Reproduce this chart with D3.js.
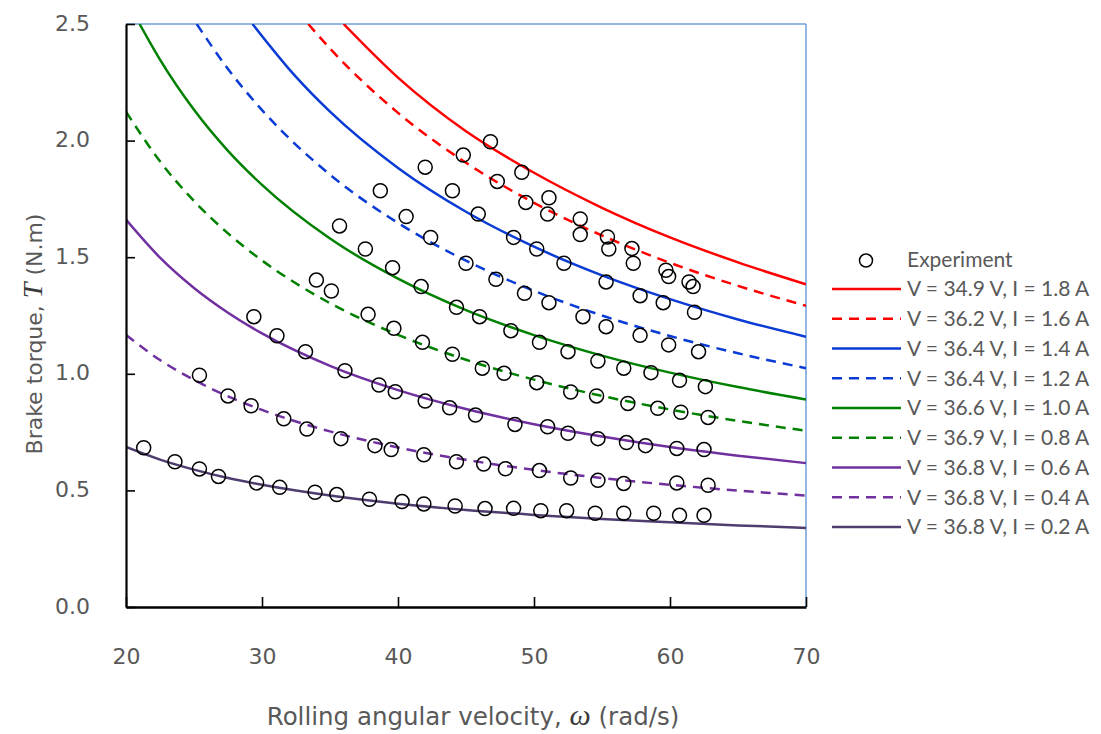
<!DOCTYPE html>
<html>
<head>
<meta charset="utf-8">
<script src="https://cdn.jsdelivr.net/npm/d3@7"></script>
<style>
  html, body { margin: 0; padding: 0; background: #ffffff; }
  svg { display: block; }
</style>
</head>
<body>
<svg id="chart" width="1101" height="734"></svg>
<script>
// ---------------- data ----------------
const omegaTicks = [20, 30, 40, 50, 60, 70];
const torqueTicks = [0.0, 0.5, 1.0, 1.5, 2.0, 2.5];
const torqueTickLabels = ["0.0", "0.5", "1.0", "1.5", "2.0", "2.5"];

const seriesLabels = [
  "V = 34.9 V, I = 1.8 A",
  "V = 36.2 V, I = 1.6 A",
  "V = 36.4 V, I = 1.4 A",
  "V = 36.4 V, I = 1.2 A",
  "V = 36.6 V, I = 1.0 A",
  "V = 36.9 V, I = 0.8 A",
  "V = 36.8 V, I = 0.6 A",
  "V = 36.8 V, I = 0.4 A",
  "V = 36.8 V, I = 0.2 A"
];

// model curves (omega in rad/s, torque in N.m)
const omegaA18 = [36.0, 40, 45, 50, 55, 60, 65, 70];
const torqueA18 = [2.500, 2.270, 2.040, 1.862, 1.712, 1.585, 1.478, 1.384];
const omegaA16 = [33.4, 35, 40, 45, 50, 55, 60, 65, 70];
const torqueA16 = [2.500, 2.395, 2.119, 1.905, 1.733, 1.593, 1.476, 1.377, 1.292];
const omegaA14 = [29.3, 32.5, 35, 40, 45, 50, 55, 60, 65, 70];
const torqueA14 = [2.500, 2.273, 2.124, 1.883, 1.695, 1.545, 1.422, 1.320, 1.233, 1.159];
const omegaA12 = [25.2, 27.5, 30, 35, 40, 45, 50, 55, 60, 65, 70];
const torqueA12 = [2.500, 2.307, 2.131, 1.854, 1.647, 1.485, 1.356, 1.250, 1.162, 1.088, 1.024];
const omegaA10 = [21.0, 22.5, 25, 27.5, 30, 35, 40, 45, 50, 55, 60, 65, 70];
const torqueA10 = [2.500, 2.347, 2.132, 1.956, 1.810, 1.580, 1.408, 1.273, 1.166, 1.078, 1.005, 0.943, 0.890];
const omegaA08 = [20, 22.5, 25, 27.5, 30, 35, 40, 45, 50, 55, 60, 65, 70];
const torqueA08 = [2.124, 1.911, 1.741, 1.602, 1.486, 1.303, 1.167, 1.060, 0.975, 0.905, 0.847, 0.798, 0.756];
const omegaA06 = [20, 22.5, 25, 27.5, 30, 35, 40, 45, 50, 55, 60, 65, 70];
const torqueA06 = [1.661, 1.498, 1.368, 1.262, 1.173, 1.034, 0.930, 0.849, 0.784, 0.731, 0.686, 0.649, 0.617];
const omegaA04 = [20, 22.5, 25, 27.5, 30, 35, 40, 45, 50, 55, 60, 65, 70];
const torqueA04 = [1.167, 1.059, 0.974, 0.903, 0.845, 0.753, 0.684, 0.631, 0.588, 0.553, 0.524, 0.499, 0.478];
const omegaA02 = [20, 22.5, 25, 27.5, 30, 35, 40, 45, 50, 55, 60, 65, 70];
const torqueA02 = [0.686, 0.632, 0.589, 0.553, 0.524, 0.478, 0.443, 0.416, 0.395, 0.377, 0.363, 0.350, 0.339];

// experiment points
const expOmega = [
  // 0.2 A
  21.3, 23.6, 25.4, 26.8, 29.6, 31.3, 33.9, 35.5, 37.9, 40.3, 41.9, 44.2, 46.4, 48.5, 50.5, 52.4, 54.5, 56.6, 58.8, 60.7, 62.5,
  // 0.4 A
  25.4, 27.5, 29.2, 31.6, 33.3, 35.8, 38.3, 39.5, 41.9, 44.3, 46.3, 47.9, 50.4, 52.7, 54.7, 56.6, 60.5, 62.8,
  // 0.6 A
  29.4, 31.1, 33.2, 36.1, 38.6, 39.8, 42.0, 43.8, 45.7, 48.6, 51.0, 52.5, 54.7, 56.8, 58.2, 60.5, 62.5,
  // 0.8 A
  34.0, 35.1, 37.8, 39.7, 41.8, 44.0, 46.2, 47.8, 50.2, 52.7, 54.6, 56.9, 59.1, 60.8, 62.8,
  // 1.0 A
  35.7, 37.6, 39.6, 41.7, 44.3, 46.0, 48.3, 50.4, 52.5, 54.7, 56.6, 58.6, 60.7, 62.6,
  // 1.2 A
  38.7, 40.6, 42.4, 45.0, 47.2, 49.3, 51.1, 53.6, 55.3, 57.8, 59.9, 62.1,
  // 1.4 A
  42.0, 44.0, 45.9, 48.5, 50.2, 52.2, 55.3, 57.8, 59.5, 61.8,
  // 1.6 A
  44.8, 47.3, 49.4, 51.0, 53.4, 55.5, 57.3, 59.9, 61.7,
  // 1.8 A
  46.8, 49.1, 51.1, 53.4, 55.4, 57.2, 59.7, 61.4
];
const expTorque = [
  0.683, 0.623, 0.592, 0.560, 0.532, 0.513, 0.492, 0.482, 0.462, 0.452, 0.442, 0.433, 0.422, 0.423, 0.413, 0.413, 0.402, 0.402, 0.402, 0.393, 0.393,
  0.994, 0.905, 0.863, 0.807, 0.763, 0.722, 0.692, 0.675, 0.653, 0.623, 0.613, 0.593, 0.585, 0.553, 0.543, 0.530, 0.532, 0.522,
  1.245, 1.163, 1.095, 1.013, 0.952, 0.923, 0.883, 0.854, 0.823, 0.783, 0.773, 0.745, 0.722, 0.705, 0.692, 0.680, 0.675,
  1.402, 1.355, 1.255, 1.195, 1.135, 1.084, 1.024, 1.002, 0.962, 0.922, 0.905, 0.873, 0.852, 0.835, 0.813,
  1.634, 1.535, 1.455, 1.374, 1.285, 1.245, 1.185, 1.135, 1.095, 1.055, 1.024, 1.005, 0.972, 0.945,
  1.785, 1.674, 1.585, 1.474, 1.405, 1.345, 1.305, 1.245, 1.202, 1.165, 1.124, 1.095,
  1.886, 1.785, 1.685, 1.585, 1.535, 1.474, 1.394, 1.335, 1.305, 1.264,
  1.938, 1.825, 1.735, 1.685, 1.597, 1.535, 1.474, 1.417, 1.374,
  1.995, 1.864, 1.755, 1.664, 1.587, 1.537, 1.444, 1.394
];

// ---------------- styles ----------------
const seriesColors = ["#ff0000", "#ff0000", "#0a3bd4", "#0a3bd4", "#008000", "#008000", "#7030a0", "#7030a0", "#4e3d6e"];
const seriesDashed = [false, true, false, true, false, true, false, true, false];

const modelOmegas = [omegaA18, omegaA16, omegaA14, omegaA12, omegaA10, omegaA08, omegaA06, omegaA04, omegaA02];
const modelTorques = [torqueA18, torqueA16, torqueA14, torqueA12, torqueA10, torqueA08, torqueA06, torqueA04, torqueA02];

// ---------------- layout ----------------
const svg = d3.select("#chart");
const pLeft = 126, pRight = 806, pTop = 24, pBottom = 607;
const textGray = "#595959";
const axisFont = "'DejaVu Sans', Lato, sans-serif";
const legendFont = "Lato, 'Open Sans', sans-serif";
const serifItalic = "'Liberation Serif', 'DejaVu Serif', serif";

const x = d3.scaleLinear().domain([20, 70]).range([pLeft, pRight]);
const y = d3.scaleLinear().domain([0, 2.5]).range([pBottom, pTop]);

svg.append("defs").append("clipPath").attr("id", "plotClip")
  .append("rect").attr("x", pLeft).attr("y", pTop).attr("width", pRight - pLeft).attr("height", pBottom - pTop);

// plot border (top and right)
svg.append("line").attr("x1", pLeft).attr("x2", pRight).attr("y1", pTop).attr("y2", pTop)
  .attr("stroke", "#6f9fd8").attr("stroke-width", 1.5);
svg.append("line").attr("x1", pRight).attr("x2", pRight).attr("y1", pTop).attr("y2", pBottom)
  .attr("stroke", "#6f9fd8").attr("stroke-width", 1.5);

// model lines
const lineGen = d3.line().x(d => x(d[0])).y(d => y(d[1])).curve(d3.curveMonotoneX);
const gLines = svg.append("g").attr("clip-path", "url(#plotClip)");
seriesLabels.forEach((lab, i) => {
  const pts = modelOmegas[i].map((w, j) => [w, modelTorques[i][j]]);
  gLines.append("path")
    .attr("d", lineGen(pts))
    .attr("fill", "none")
    .attr("stroke", seriesColors[i])
    .attr("stroke-width", 2.5)
    .attr("stroke-dasharray", seriesDashed[i] ? "10,7" : null);
});

// experiment points
svg.append("g").selectAll("circle")
  .data(expOmega.map((w, i) => [w, expTorque[i]]))
  .join("circle")
  .attr("cx", d => x(d[0]))
  .attr("cy", d => y(d[1]))
  .attr("r", 7)
  .attr("fill", "none")
  .attr("stroke", "#000")
  .attr("stroke-width", 1.5);

// y axis
const yAxis = d3.axisLeft(y).tickValues(torqueTicks)
  .tickFormat((d, i) => torqueTickLabels[i])
  .tickSizeInner(-9).tickSizeOuter(0).tickPadding(36);
const gy = svg.append("g").attr("transform", `translate(${pLeft},0)`).call(yAxis);
gy.select(".domain").attr("stroke", "#000").attr("stroke-width", 2.2);
gy.selectAll(".tick line").attr("stroke", "#000").attr("stroke-width", 1.6);
gy.selectAll(".tick text").attr("fill", textGray).attr("font-size", 22)
  .attr("font-family", axisFont).attr("text-anchor", "end")
  .attr("x", -36).attr("y", 6).attr("dy", 0);

// x axis
const xAxis = d3.axisBottom(x).tickValues(omegaTicks)
  .tickSizeInner(-10).tickSizeOuter(0).tickPadding(38);
const gx = svg.append("g").attr("transform", `translate(0,${pBottom})`).call(xAxis);
gx.select(".domain").attr("stroke", "#000").attr("stroke-width", 2.6);
gx.selectAll(".tick line").attr("stroke", "#000").attr("stroke-width", 1.6);
gx.selectAll(".tick text").attr("fill", textGray).attr("font-size", 22)
  .attr("font-family", axisFont).attr("text-anchor", "middle")
  .attr("y", 57).attr("dy", 0);

// axis titles (centred by measured width)
const xTitle = svg.append("text")
  .attr("text-anchor", "start")
  .attr("fill", textGray).attr("font-size", 24.5)
  .attr("font-family", axisFont);
xTitle.append("tspan").text("Rolling angular velocity, ");
xTitle.append("tspan").text("ω").attr("font-family", serifItalic)
  .attr("font-style", "italic").attr("font-size", 30).attr("fill", "#3a3a3a");
xTitle.append("tspan").text(" (rad/s)");
const xw = xTitle.node().getComputedTextLength();
xTitle.attr("x", 473 - xw / 2).attr("y", 725);

const yTitle = svg.append("text")
  .attr("text-anchor", "start")
  .attr("fill", textGray).attr("font-size", 22)
  .attr("font-family", axisFont);
yTitle.append("tspan").text("Brake torque, ");
yTitle.append("tspan").text("T").attr("font-family", serifItalic)
  .attr("font-style", "italic").attr("font-size", 28).attr("fill", "#3a3a3a");
yTitle.append("tspan").text(" (N.m)");
const yw = yTitle.node().getComputedTextLength();
yTitle.attr("transform", `translate(42,${334 + yw / 2}) rotate(-90)`);

// legend
const lg = svg.append("g");
lg.append("circle").attr("cx", 866).attr("cy", 260.5).attr("r", 6.5)
  .attr("fill", "none").attr("stroke", "#000").attr("stroke-width", 1.5);
lg.append("text").attr("x", 907).attr("y", 260).attr("dy", "0.35em")
  .attr("fill", textGray).attr("font-size", 21).attr("font-family", legendFont).text("Experiment");
const rows = lg.selectAll("g.row").data(seriesLabels).join("g")
  .attr("class", "row")
  .attr("transform", (d, i) => `translate(0,${289 + i * 29.75})`);
rows.append("line").attr("x1", 832).attr("x2", 901).attr("y1", 0).attr("y2", 0)
  .attr("stroke", (d, i) => seriesColors[i]).attr("stroke-width", 2.5)
  .attr("stroke-dasharray", (d, i) => seriesDashed[i] ? "10,7" : null);
rows.append("text").attr("x", 907).attr("y", 0).attr("dy", "0.35em")
  .attr("fill", textGray).attr("font-size", 21).attr("font-family", legendFont)
  .text(d => d);
</script>
</body>
</html>
